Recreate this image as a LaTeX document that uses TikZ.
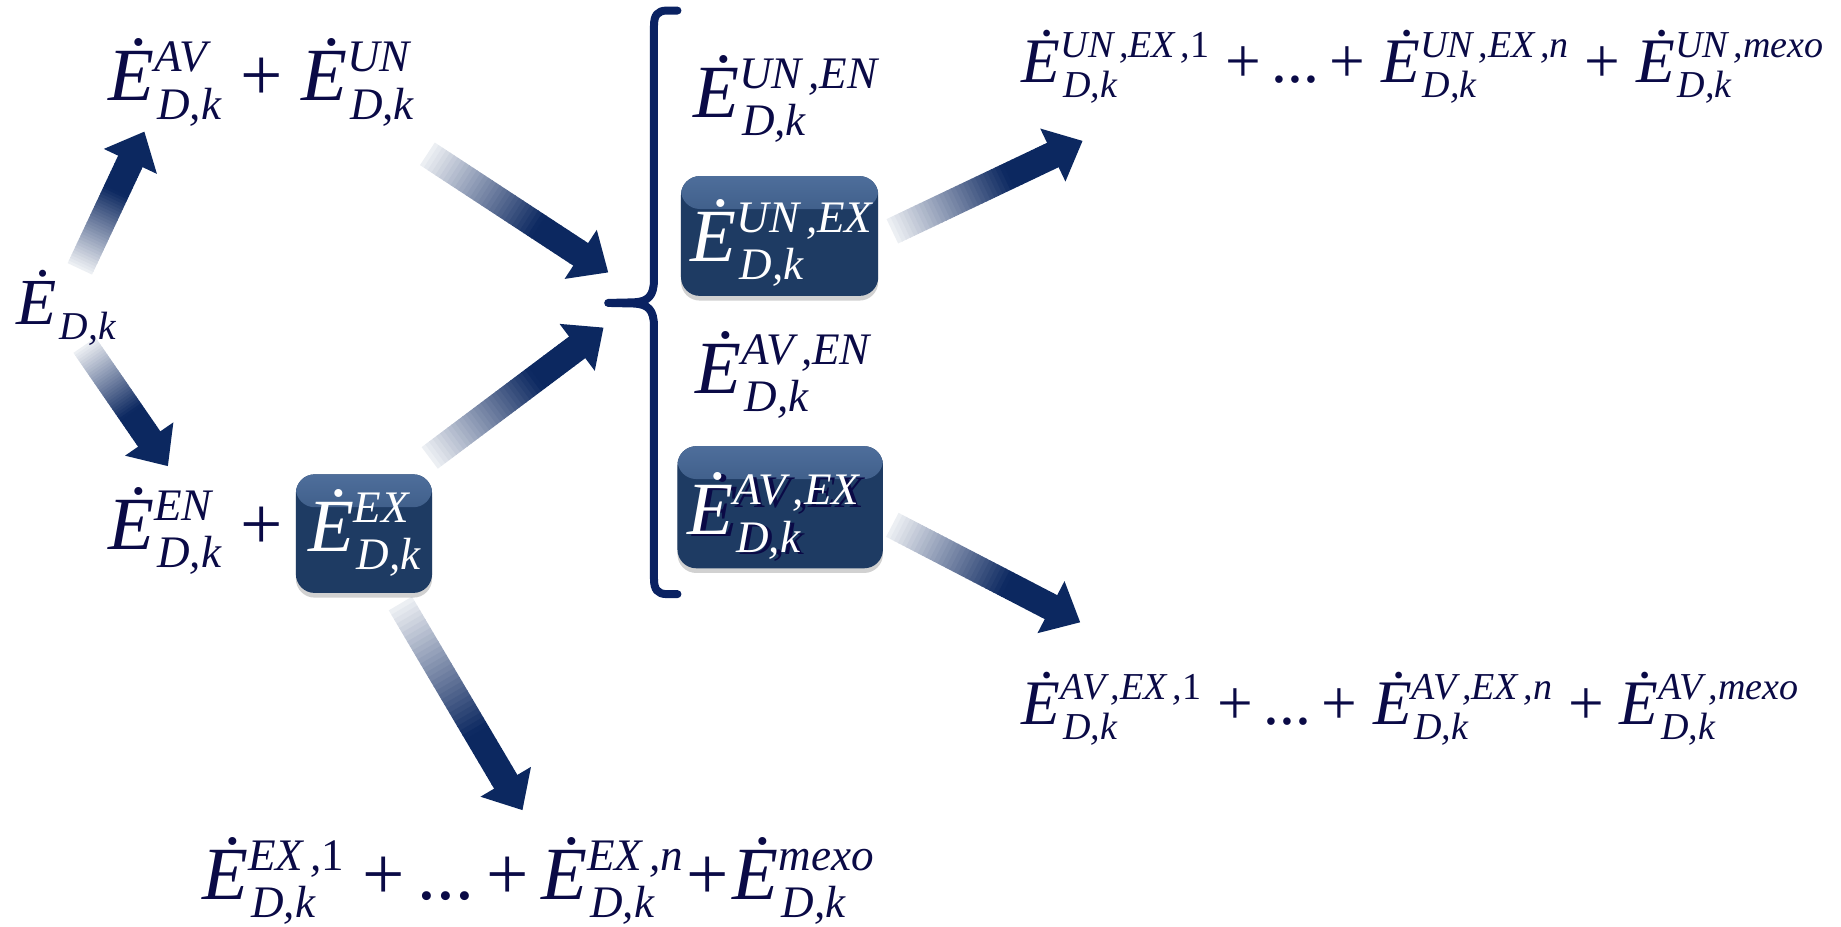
\documentclass[tikz,border=0pt]{standalone}
\usepackage{fontspec}
\setmainfont{Liberation Serif}
\usetikzlibrary{calc,shadows}
\definecolor{ink}{HTML}{0A0A46}
\definecolor{arrnavy}{HTML}{0C2860}
\definecolor{bracecol}{HTML}{0A2262}
\definecolor{boxbody}{HTML}{1E3B63}
\definecolor{boxhi}{HTML}{4F6F9C}
\makeatletter
\newcommand\Et[2]{%
  \textit{Ė}%
  \begingroup
  \pgfmathsetmacro\scsz{0.6*\f@size}%
  \setbox0=\hbox{\fontsize{\scsz}{\scsz}\selectfont\itshape #1}%
  \setbox2=\hbox{\fontsize{\scsz}{\scsz}\selectfont\itshape #2}%
  \dimen0=\wd0 \dimen2=\wd2 \advance\dimen2 by 0.04em
  \ifdim\dimen0<\dimen2 \dimen0=\dimen2 \fi
  \rlap{\raise0.39em\box0}\rlap{\kern0.04em\lower0.24em\box2}\kern\dimen0
  \endgroup}
\makeatother
\newcommand\scm{\kern.15em,}
\newcommand\shaftw{5.75pt}
\newcommand\headw{12.5pt}
\newcommand\headlen{14}
\newcommand\fatarrow[2]{%
  \path let \p1=($(#2)-(#1)$) in \pgfextra{%
    \pgfmathsetmacro\faA{atan2(\y1,\x1)}\xdef\faAng{\faA}%
    \pgfmathsetmacro\faL{veclen(\x1,\y1)}\xdef\faLen{\faL}};
  \begin{scope}[shift={(#1)}, rotate=\faAng]
    \pgfmathsetmacro\faS{\faLen-\headlen}
    \foreach \k in {0,...,39}{%
      \pgfmathsetmacro\pc{min(100,6+94*(\k+0.5)/40/0.72)}
      \fill[arrnavy!\pc!white] ({(\faS*\k/40)*1pt},-\shaftw) rectangle ({(\faS*(\k+1)/40)*1pt+0.3pt},\shaftw);
    }
    \fill[arrnavy] ({\faS*1pt},-\headw) -- ({\faLen*1pt},0pt) -- ({\faS*1pt},\headw) -- cycle;
  \end{scope}}
\tikzset{
  term/.style={anchor=base west, inner sep=0pt, text=ink, font=\fontsize{32}{36}\selectfont},
  termr/.style={term, font=\fontsize{27}{30}\selectfont},
  termw/.style={term, text=white},
  boxn/.style={rounded corners=8pt, fill=boxbody, inner sep=0pt,
    drop shadow={shadow xshift=0pt, shadow yshift=-2pt, opacity=.18, fill=black},
    path picture={\shade[top color=boxhi, bottom color=boxbody]
      ([yshift=1pt]path picture bounding box.north west) rectangle
      ([yshift=-14pt]path picture bounding box.north east);}},
  bracestroke/.style={draw=bracecol, line width=3.4pt, line cap=round, line join=round}
}
\begin{document}
\begin{tikzpicture}[x=0.5pt, y=-0.5pt]
\useasboundingbox (0,0) rectangle (1568,789);
% arrow end points
\coordinate (aA1) at (68,229);  \coordinate (aA2) at (123,112);
\coordinate (aB1) at (72,294);  \coordinate (aB2) at (143,397);
\coordinate (aC1) at (364,131); \coordinate (aC2) at (518,232);
\coordinate (aD1) at (366,390); \coordinate (aD2) at (514,279);
\coordinate (aE1) at (341,514); \coordinate (aE2) at (445,690);
\coordinate (aF1) at (760,197); \coordinate (aF2) at (922,120);
\coordinate (aG1) at (760,447); \coordinate (aG2) at (920,530);
\fatarrow{aA1}{aA2}
\fatarrow{aB1}{aB2}
\fatarrow{aC1}{aC2}
\fatarrow{aD1}{aD2}
\fatarrow{aE1}{aE2}
\fatarrow{aF1}{aF2}
\fatarrow{aG1}{aG2}
% brace
\draw[bracestroke] (577,9) -- (568,9) .. controls (560,9) and (557,13) .. (557,22)
  -- (557,238) .. controls (557,252) and (552,257) .. (540,257.5) -- (518,258)
  -- (540,258.5) .. controls (552,259) and (557,264) .. (557,278)
  -- (557,493) .. controls (557,502) and (560,506) .. (568,506) -- (577,506);
% boxes
\node[boxn, minimum width=58pt, minimum height=50.5pt] (bex) at (310,454.5) {};
\node[boxn, minimum width=84pt, minimum height=51pt] (b1) at (664,201) {};
\node[boxn, minimum width=87.5pt, minimum height=52pt] (b2) at (664.5,432) {};
% texts
\node[term] (top) at (92,86) {\Et{AV}{D,k} + \Et{UN}{D,k}};
\node[term, font=\fontsize{28}{30}\selectfont] (edk) at (14,276) {\Et{}{D,k}};
\node[term] (en) at (92,468) {\Et{EN}{D,k} +};
\node[termw] (tex) at (262,470) {\Et{EX}{D,k}};
\node[term] (bot) at (172,766) {\Et{EX\scm\textup{1}}{D,k} +\,...\,+\,\Et{EX\scm n}{D,k}\kern.05em+\kern.05em\Et{mexo}{D,k}};
\node[term] (uen) at (590,100) {\Et{UN\scm EN}{D,k}};
\node[termw] (uex) at (588,223) {\Et{UN\scm EX}{D,k}};
\node[term] (aen) at (592,335) {\Et{AV\scm EN}{D,k}};
\node[term, text=ink] (aexs) at (589,457) {\Et{AV\scm EX}{D,k}};
\node[termw] (aex) at (585,455) {\Et{AV\scm EX}{D,k}};
\node[termr] (tr) at (870,70) {\Et{UN\scm EX\scm\textup{1}}{D,k} +\,...\,+ \Et{UN\scm EX\scm n}{D,k} + \Et{UN\scm mexo}{D,k}};
\node[termr] (br) at (870,617) {\Et{AV\scm EX\scm\textup{1}}{D,k} +\,...\,+ \Et{AV\scm EX\scm n}{D,k} + \Et{AV\scm mexo}{D,k}};
\end{tikzpicture}
\end{document}
